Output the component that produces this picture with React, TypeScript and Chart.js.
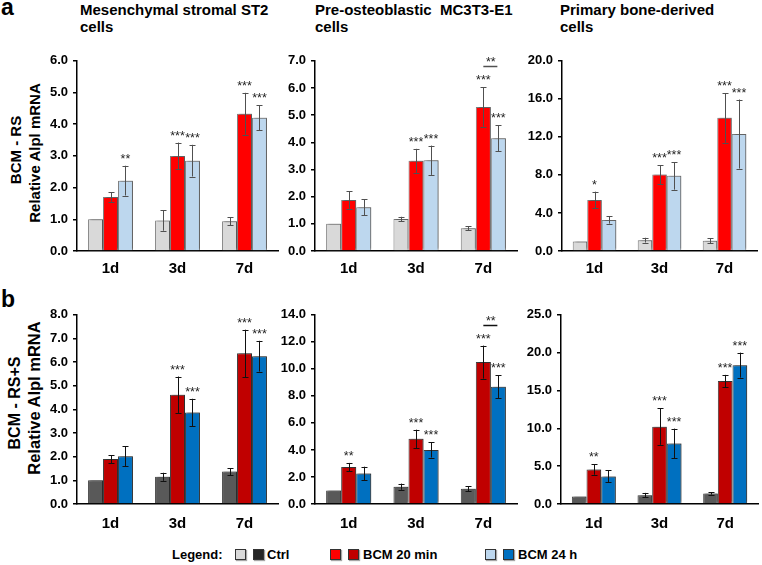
import React, { useEffect, useRef } from 'react';
import { Chart, registerables } from 'chart.js';

Chart.register(...registerables);

const FONT = '"Liberation Sans", Arial, Helvetica, sans-serif';

const categories = ['1d', '3d', '7d'];
const seriesNames = ['Ctrl', 'BCM 20 min', 'BCM 24 h'];
const topColors = ['#d9d9d9', '#ff0000', '#bdd7ee'];
const bottomColors = ['#595959', '#c00000', '#0070c0'];
const columnTitles = [
  ['Mesenchymal stromal ST2', 'cells'],
  ['Pre-osteoblastic\u00a0 MC3T3-E1', 'cells'],
  ['Primary bone-derived', 'cells'],
];
const rowLabels = ['BCM - RS', 'BCM - RS+S'];
const yTitle = 'Relative Alpl mRNA';

// a1: ST2, BCM - RS
const a1Ctrl = [1.0, 0.96, 0.94];
const a1CtrlErr = [0, 0.32, 0.12];
const a1Bcm20 = [1.7, 3.0, 4.33];
const a1Bcm20Err = [0.15, 0.42, 0.66];
const a1Bcm24 = [2.22, 2.85, 4.2];
const a1Bcm24Err = [0.47, 0.5, 0.39];
const a1Stars20 = ['', '***', '***'];
const a1Stars24 = ['**', '***', '***'];

// a2: MC3T3-E1, BCM - RS
const a2Ctrl = [1.0, 1.18, 0.84];
const a2CtrlErr = [0, 0.08, 0.08];
const a2Bcm20 = [1.88, 3.32, 5.3];
const a2Bcm20Err = [0.32, 0.44, 0.72];
const a2Bcm24 = [1.61, 3.34, 4.15];
const a2Bcm24Err = [0.29, 0.54, 0.48];
const a2Stars20 = ['', '***', '***'];
const a2Stars24 = ['', '***', '***'];

// a3: primary cells, BCM - RS
const a3Ctrl = [1.0, 1.14, 1.07];
const a3CtrlErr = [0, 0.25, 0.28];
const a3Bcm20 = [5.37, 8.04, 14.0];
const a3Bcm20Err = [0.87, 1.0, 2.6];
const a3Bcm24 = [3.26, 7.9, 12.3];
const a3Bcm24Err = [0.38, 1.45, 3.63];
const a3Stars20 = ['*', '***', '***'];
const a3Stars24 = ['', '***', '***'];

// b1: ST2, BCM - RS+S
const b1Ctrl = [1.0, 1.15, 1.37];
const b1CtrlErr = [0, 0.17, 0.15];
const b1Bcm20 = [1.9, 4.62, 6.37];
const b1Bcm20Err = [0.17, 0.77, 1.0];
const b1Bcm24 = [2.02, 3.87, 6.25];
const b1Bcm24Err = [0.42, 0.58, 0.65];
const b1Stars20 = ['', '***', '***'];
const b1Stars24 = ['', '***', '***'];

// b2: MC3T3-E1, BCM - RS+S
const b2Ctrl = [1.0, 1.28, 1.12];
const b2CtrlErr = [0, 0.23, 0.18];
const b2Bcm20 = [2.73, 4.82, 10.5];
const b2Bcm20Err = [0.31, 0.68, 1.22];
const b2Bcm24 = [2.26, 4.0, 8.68];
const b2Bcm24Err = [0.5, 0.56, 0.85];
const b2Stars20 = ['**', '***', '***'];
const b2Stars24 = ['', '***', '***'];

// b3: primary cells, BCM - RS+S
const b3Ctrl = [1.0, 1.17, 1.39];
const b3CtrlErr = [0, 0.3, 0.15];
const b3Bcm20 = [4.57, 10.22, 16.26];
const b3Bcm20Err = [0.7, 2.4, 0.8];
const b3Bcm24 = [3.65, 8.0, 18.35];
const b3Bcm24Err = [0.78, 1.96, 1.65];
const b3Stars20 = ['**', '***', '***'];
const b3Stars24 = ['', '***', '***'];

const yMaxes = [6, 7, 20, 8, 14, 25];
const ySteps = [1, 1, 4, 1, 2, 5];
const bracketLabel = '**';

type Panel = {
  values: number[][];
  errors: number[][];
  stars: string[][];
  bracket: number | null;
  max: number;
  step: number;
  colors: string[];
  border: string;
  whisker: string;
  ax: number;
  top: number;
  right: number;
  bottom: number;
  xPad: number;
};

const noStars = ['', '', ''];

const panels: Panel[] = [
  {
    values: [a1Ctrl, a1Bcm20, a1Bcm24], errors: [a1CtrlErr, a1Bcm20Err, a1Bcm24Err],
    stars: [noStars, a1Stars20, a1Stars24], bracket: null, max: yMaxes[0], step: ySteps[0],
    colors: topColors, border: '#7f7f7f', whisker: '#505050', ax: 77, top: 58, right: 278, bottom: 251, xPad: 9,
  },
  {
    values: [a2Ctrl, a2Bcm20, a2Bcm24], errors: [a2CtrlErr, a2Bcm20Err, a2Bcm24Err],
    stars: [noStars, a2Stars20, a2Stars24], bracket: 2, max: yMaxes[1], step: ySteps[1],
    colors: topColors, border: '#7f7f7f', whisker: '#505050', ax: 315, top: 58, right: 517, bottom: 251, xPad: 9,
  },
  {
    values: [a3Ctrl, a3Bcm20, a3Bcm24], errors: [a3CtrlErr, a3Bcm20Err, a3Bcm24Err],
    stars: [noStars, a3Stars20, a3Stars24], bracket: null, max: yMaxes[2], step: ySteps[2],
    colors: topColors, border: '#7f7f7f', whisker: '#505050', ax: 562, top: 58, right: 757, bottom: 251, xPad: 9,
  },
  {
    values: [b1Ctrl, b1Bcm20, b1Bcm24], errors: [b1CtrlErr, b1Bcm20Err, b1Bcm24Err],
    stars: [noStars, b1Stars20, b1Stars24], bracket: null, max: yMaxes[3], step: ySteps[3],
    colors: bottomColors, border: '#404040', whisker: '#111', ax: 77, top: 312, right: 278, bottom: 504, xPad: 11,
  },
  {
    values: [b2Ctrl, b2Bcm20, b2Bcm24], errors: [b2CtrlErr, b2Bcm20Err, b2Bcm24Err],
    stars: [noStars, b2Stars20, b2Stars24], bracket: 2, max: yMaxes[4], step: ySteps[4],
    colors: bottomColors, border: '#404040', whisker: '#111', ax: 315, top: 312, right: 517, bottom: 504, xPad: 11,
  },
  {
    values: [b3Ctrl, b3Bcm20, b3Bcm24], errors: [b3CtrlErr, b3Bcm20Err, b3Bcm24Err],
    stars: [noStars, b3Stars20, b3Stars24], bracket: null, max: yMaxes[5], step: ySteps[5],
    colors: bottomColors, border: '#404040', whisker: '#111', ax: 561, top: 312, right: 758, bottom: 504, xPad: 11,
  },
];

const Y_W = 50;
const X_H = 30;
const PAD_T = 10;
const PAD_R = 3;

function makeOverlay(p: Panel) {
  return {
    id: 'overlay',
    beforeDatasetsDraw(chart: any) {
      const ctx = chart.ctx;
      ctx.save();
      ctx.shadowColor = 'rgba(0,0,0,0.35)';
      ctx.shadowOffsetX = 2;
      ctx.shadowOffsetY = -1;
      ctx.shadowBlur = 2;
    },
    afterDatasetsDraw(chart: any) {
      const ctx = chart.ctx;
      ctx.restore();
      const ys = chart.scales.y;
      ctx.save();
      ctx.strokeStyle = p.whisker;
      ctx.lineWidth = 1;
      ctx.fillStyle = '#222';
      ctx.font = `12.5px ${FONT}`;
      ctx.textAlign = 'center';
      ctx.textBaseline = 'alphabetic';
      const tops: number[][] = [];
      const xs: number[][] = [];
      p.values.forEach((vals, i) => {
        const meta = chart.getDatasetMeta(i);
        tops[i] = [];
        xs[i] = [];
        vals.forEach((v, j) => {
          const bar = meta.data[j];
          const x = Math.round(bar.x) + 0.5;
          const e = p.errors[i][j];
          const yt = ys.getPixelForValue(v + e);
          const yb = ys.getPixelForValue(v - e);
          tops[i][j] = yt;
          xs[i][j] = bar.x;
          if (e > 0) {
            ctx.beginPath();
            ctx.moveTo(x, yt);
            ctx.lineTo(x, yb);
            ctx.moveTo(x - 3, Math.round(yt) + 0.5);
            ctx.lineTo(x + 3, Math.round(yt) + 0.5);
            ctx.moveTo(x - 3, Math.round(yb) + 0.5);
            ctx.lineTo(x + 3, Math.round(yb) + 0.5);
            ctx.stroke();
          }
          const s = p.stars[i][j];
          if (s) ctx.fillText(s, bar.x, yt - 3);
        });
      });
      if (p.bracket !== null) {
        const c = p.bracket;
        const ly = Math.round(Math.min(tops[1][c], tops[2][c]) - 21) + 0.5;
        ctx.lineWidth = 1.5;
        ctx.beginPath();
        ctx.moveTo(xs[1][c], ly);
        ctx.lineTo(xs[2][c] - 1, ly);
        ctx.stroke();
        ctx.fillText(bracketLabel, (xs[1][c] + xs[2][c]) / 2, ly - 1);
      }
      ctx.restore();
    },
  };
}

function BarPanel({ p }: { p: Panel }) {
  const ref = useRef<HTMLCanvasElement | null>(null);
  const w = Y_W + (p.right - p.ax) + PAD_R;
  const h = PAD_T + (p.bottom - p.top) + X_H;
  useEffect(() => {
    if (!ref.current) return;
    const chart = new Chart(ref.current, {
      type: 'bar',
      data: {
        labels: categories,
        datasets: p.values.map((vals, i) => ({
          label: seriesNames[i],
          data: vals,
          backgroundColor: p.colors[i],
          borderColor: p.border,
          borderWidth: 1,
          categoryPercentage: 0.67,
          barPercentage: 1.0,
        })),
      },
      options: {
        responsive: false,
        animation: false,
        devicePixelRatio: 1,
        layout: { padding: { top: PAD_T, right: PAD_R, left: 0, bottom: 0 } },
        plugins: { legend: { display: false }, tooltip: { enabled: false } },
        scales: {
          x: {
            grid: { display: true, drawOnChartArea: false, drawTicks: false },
            border: { display: true, color: '#000', width: 1.5 },
            ticks: { color: '#000', font: { family: FONT, size: 15, weight: 'bold' }, padding: p.xPad },
            afterFit: (s: any) => { s.height = X_H; },
          },
          y: {
            min: 0,
            max: p.max,
            ticks: {
              stepSize: p.step,
              color: '#000',
              padding: 5,
              font: { family: FONT, size: 13, weight: 'bold' },
              callback: (v: any) => Number(v).toFixed(1),
            },
            grid: { display: true, drawOnChartArea: false, drawTicks: true, tickLength: 4, color: '#000', lineWidth: 1.5 },
            border: { display: true, color: '#000', width: 1.5 },
            afterFit: (s: any) => { s.width = Y_W; },
          },
        },
      },
      plugins: [makeOverlay(p)],
    } as any);
    return () => chart.destroy();
  }, []);
  return (
    <canvas
      ref={ref}
      width={w}
      height={h}
      style={{ position: 'absolute', left: p.ax - Y_W, top: p.top - PAD_T, width: w, height: h }}
    />
  );
}

const abs = (o: any) => ({ position: 'absolute' as const, whiteSpace: 'nowrap' as const, ...o });

function RotLabel({ text, cx, cy, size }: { text: string; cx: number; cy: number; size: number }) {
  return (
    <div
      style={abs({
        left: cx,
        top: cy,
        fontSize: size,
        fontWeight: 'bold',
        lineHeight: `${size}px`,
        transform: 'translate(-50%, -50%) rotate(-90deg)',
      })}
    >
      {text}
    </div>
  );
}

function LegendBox({ x, color }: { x: number; color: string }) {
  return (
    <div
      style={abs({
        left: x,
        top: 549,
        width: 9,
        height: 9,
        background: color,
        border: '1px solid #333',
        boxShadow: '1px 1px 1px rgba(0,0,0,0.35)',
      })}
    />
  );
}

export default function App() {
  const titleX = [80, 315, 560];
  return (
    <div
      style={{
        position: 'absolute',
        left: 0,
        top: 0,
        width: 762,
        height: 565,
        background: '#fff',
        fontFamily: FONT,
        color: '#000',
        overflow: 'hidden',
      }}
    >
      <div style={abs({ left: 1, top: -4, fontSize: 23, fontWeight: 'bold', lineHeight: '23px' })}>a</div>
      <div style={abs({ left: 1, top: 288, fontSize: 23, fontWeight: 'bold', lineHeight: '23px' })}>b</div>
      {columnTitles.map((t, i) => (
        <div key={i} style={abs({ left: titleX[i], top: 1, fontSize: 15, fontWeight: 'bold', lineHeight: '17px' })}>
          {t[0]}
          <br />
          {t[1]}
        </div>
      ))}
      <RotLabel text={rowLabels[0]} cx={15} cy={150} size={15} />
      <RotLabel text={yTitle} cx={34} cy={153} size={15} />
      <RotLabel text={rowLabels[1]} cx={15} cy={403} size={16} />
      <RotLabel text={yTitle} cx={34} cy={398} size={16.5} />
      {panels.map((p, i) => (
        <BarPanel key={i} p={p} />
      ))}
      <div style={abs({ left: 172, top: 547, fontSize: 13, fontWeight: 'bold', lineHeight: '15px' })}>Legend:</div>
      <LegendBox x={235} color={topColors[0]} />
      <LegendBox x={253} color="#262626" />
      <div style={abs({ left: 267, top: 547, fontSize: 13, fontWeight: 'bold', lineHeight: '15px' })}>{seriesNames[0]}</div>
      <LegendBox x={330} color={topColors[1]} />
      <LegendBox x={348} color={bottomColors[1]} />
      <div style={abs({ left: 363, top: 547, fontSize: 13, fontWeight: 'bold', lineHeight: '15px' })}>{seriesNames[1]}</div>
      <LegendBox x={485} color={topColors[2]} />
      <LegendBox x={503} color={bottomColors[2]} />
      <div style={abs({ left: 518, top: 547, fontSize: 13, fontWeight: 'bold', lineHeight: '15px' })}>{seriesNames[2]}</div>
    </div>
  );
}
